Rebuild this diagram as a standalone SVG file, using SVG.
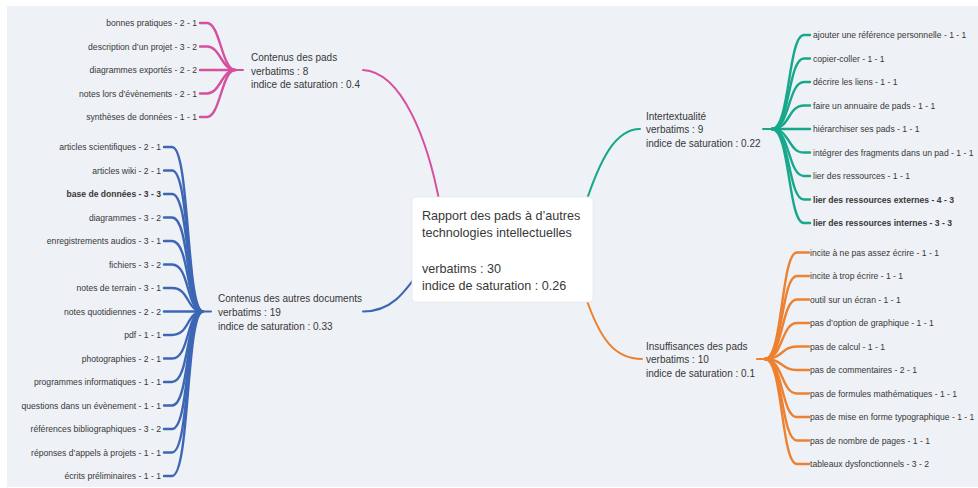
<svg xmlns="http://www.w3.org/2000/svg" width="978" height="488" viewBox="0 0 978 488">
<style>
text{font-family:"Liberation Sans",Arial,sans-serif;fill:#383838}
.leaf{font-size:8.6px}
.b{font-weight:bold}
.br{font-size:10px}
.root{font-size:12.6px}
.c{fill:none;stroke-linecap:round}
.l{stroke-width:2.4}
.m{stroke-width:2}
.pk{stroke:#d5509f}.bl{stroke:#3d67b5}.tl{stroke:#17a88b}.or{stroke:#ec8131}
</style>
<rect width="978" height="488" fill="#ffffff"/>
<rect x="7" y="6" width="971" height="481" fill="#eef1f5"/>
<g id="connectors">
<path class="c m pk" d="M363,70 C402,72 428,140 440,205"/>
<path class="c m bl" d="M363,311.5 C392,311.5 405,292 422,268"/>
<path class="c m tl" d="M585,205 C600,160 615,129 640,129"/>
<path class="c m or" d="M585,295 C600,340 615,359 642,359"/>
<path class="c m pk" d="M243,70 L235,70"/>
<path class="c l pk" d="M235,70 C222,70 220,23 207,23 L200,23"/>
<path class="c l pk" d="M235,70 C222,70 220,46.5 207,46.5 L200,46.5"/>
<path class="c l pk" d="M235,70 L200,70"/>
<path class="c l pk" d="M235,70 C222,70 220,93.5 207,93.5 L200,93.5"/>
<path class="c l pk" d="M235,70 C222,70 220,117 207,117 L200,117"/>
<path class="c m bl" d="M211,311.5 L203,311.5"/>
<path class="c l bl" d="M203,311.5 C186,311.5 190,147 172,147 L164,147"/>
<path class="c l bl" d="M203,311.5 C186,311.5 190,170.5 172,170.5 L164,170.5"/>
<path class="c l bl" d="M203,311.5 C186,311.5 190,194 172,194 L164,194"/>
<path class="c l bl" d="M203,311.5 C186,311.5 190,217.5 172,217.5 L164,217.5"/>
<path class="c l bl" d="M203,311.5 C186,311.5 190,241 172,241 L164,241"/>
<path class="c l bl" d="M203,311.5 C186,311.5 190,264.5 172,264.5 L164,264.5"/>
<path class="c l bl" d="M203,311.5 C186,311.5 190,288 172,288 L164,288"/>
<path class="c l bl" d="M203,311.5 L164,311.5"/>
<path class="c l bl" d="M203,311.5 C186,311.5 190,335 172,335 L164,335"/>
<path class="c l bl" d="M203,311.5 C186,311.5 190,358.5 172,358.5 L164,358.5"/>
<path class="c l bl" d="M203,311.5 C186,311.5 190,382 172,382 L164,382"/>
<path class="c l bl" d="M203,311.5 C186,311.5 190,405.5 172,405.5 L164,405.5"/>
<path class="c l bl" d="M203,311.5 C186,311.5 190,429 172,429 L164,429"/>
<path class="c l bl" d="M203,311.5 C186,311.5 190,452.5 172,452.5 L164,452.5"/>
<path class="c l bl" d="M203,311.5 C186,311.5 190,476 172,476 L164,476"/>
<path class="c m tl" d="M763,129 L772,129"/>
<path class="c l tl" d="M772,129 C790,129 788,35 804,35 L810,35"/>
<path class="c l tl" d="M772,129 C790,129 788,58.5 804,58.5 L810,58.5"/>
<path class="c l tl" d="M772,129 C790,129 788,82 804,82 L810,82"/>
<path class="c l tl" d="M772,129 C790,129 788,105.5 804,105.5 L810,105.5"/>
<path class="c l tl" d="M772,129 L810,129"/>
<path class="c l tl" d="M772,129 C790,129 788,152.5 804,152.5 L810,152.5"/>
<path class="c l tl" d="M772,129 C790,129 788,176 804,176 L810,176"/>
<path class="c l tl" d="M772,129 C790,129 788,199.5 804,199.5 L810,199.5"/>
<path class="c l tl" d="M772,129 C790,129 788,223 804,223 L810,223"/>
<path class="c m or" d="M757,359 L765,359"/>
<path class="c l or" d="M765,359 C783,359 781,252.5 797,252.5 L809,252.5"/>
<path class="c l or" d="M765,359 C783,359 781,276 797,276 L809,276"/>
<path class="c l or" d="M765,359 C783,359 781,299.5 797,299.5 L809,299.5"/>
<path class="c l or" d="M765,359 C783,359 781,323 797,323 L809,323"/>
<path class="c l or" d="M765,359 C783,359 781,346.5 797,346.5 L809,346.5"/>
<path class="c l or" d="M765,359 C783,359 781,370 797,370 L809,370"/>
<path class="c l or" d="M765,359 C783,359 781,393.5 797,393.5 L809,393.5"/>
<path class="c l or" d="M765,359 C783,359 781,417 797,417 L809,417"/>
<path class="c l or" d="M765,359 C783,359 781,440.5 797,440.5 L809,440.5"/>
<path class="c l or" d="M765,359 C783,359 781,464 797,464 L809,464"/>
</g>
<g id="root">
<rect x="412" y="197" width="181" height="105" rx="4" fill="#ffffff" stroke="#e6e9ee" stroke-width="0.8"/>
<text class="root" x="422" y="219.5">Rapport des pads à d’autres</text>
<text class="root" x="422" y="237.2">technologies intellectuelles</text>
<text class="root" x="422" y="272.6">verbatims : 30</text>
<text class="root" x="422" y="290.3">indice de saturation : 0.26</text>
</g>
<g id="contenus-pads">
<text class="br" x="251" y="60.5">Contenus des pads</text>
<text class="br" x="251" y="74.5">verbatims : 8</text>
<text class="br" x="251" y="88">indice de saturation : 0.4</text>
</g>
<g id="pads-leaves" text-anchor="end">
<text class="leaf" x="197" y="26">bonnes pratiques - 2 - 1</text>
<text class="leaf" x="197" y="49.5">description d’un projet - 3 - 2</text>
<text class="leaf" x="197" y="73">diagrammes exportés - 2 - 2</text>
<text class="leaf" x="197" y="96.5">notes lors d’évènements - 2 - 1</text>
<text class="leaf" x="197" y="120">synthèses de données - 1 - 1</text>
</g>
<g id="contenus-autres">
<text class="br" x="218" y="301.5">Contenus des autres documents</text>
<text class="br" x="218" y="315.5">verbatims : 19</text>
<text class="br" x="218" y="329.5">indice de saturation : 0.33</text>
</g>
<g id="autres-leaves" text-anchor="end">
<text class="leaf" x="161" y="150">articles scientifiques - 2 - 1</text>
<text class="leaf" x="161" y="173.5">articles wiki - 2 - 1</text>
<text class="leaf b" x="161" y="197">base de données - 3 - 3</text>
<text class="leaf" x="161" y="220.5">diagrammes - 3 - 2</text>
<text class="leaf" x="161" y="244">enregistrements audios - 3 - 1</text>
<text class="leaf" x="161" y="267.5">fichiers - 3 - 2</text>
<text class="leaf" x="161" y="291">notes de terrain - 3 - 1</text>
<text class="leaf" x="161" y="314.5">notes quotidiennes - 2 - 2</text>
<text class="leaf" x="161" y="338">pdf - 1 - 1</text>
<text class="leaf" x="161" y="361.5">photographies - 2 - 1</text>
<text class="leaf" x="161" y="385">programmes informatiques - 1 - 1</text>
<text class="leaf" x="161" y="408.5">questions dans un évènement - 1 - 1</text>
<text class="leaf" x="161" y="432">références bibliographiques - 3 - 2</text>
<text class="leaf" x="161" y="455.5">réponses d’appels à projets - 1 - 1</text>
<text class="leaf" x="161" y="479">écrits préliminaires - 1 - 1</text>
</g>
<g id="intertextualite">
<text class="br" x="646" y="119.5">Intertextualité</text>
<text class="br" x="646" y="133">verbatims : 9</text>
<text class="br" x="646" y="146.5">indice de saturation : 0.22</text>
</g>
<g id="intertextualite-leaves">
<text class="leaf" x="813" y="38">ajouter une référence personnelle - 1 - 1</text>
<text class="leaf" x="813" y="61.5">copier-coller - 1 - 1</text>
<text class="leaf" x="813" y="85">décrire les liens - 1 - 1</text>
<text class="leaf" x="813" y="108.5">faire un annuaire de pads - 1 - 1</text>
<text class="leaf" x="813" y="132">hiérarchiser ses pads - 1 - 1</text>
<text class="leaf" x="813" y="155.5">intégrer des fragments dans un pad - 1 - 1</text>
<text class="leaf" x="813" y="179">lier des ressources - 1 - 1</text>
<text class="leaf b" x="813" y="202.5">lier des ressources externes - 4 - 3</text>
<text class="leaf b" x="813" y="226">lier des ressources internes - 3 - 3</text>
</g>
<g id="insuffisances">
<text class="br" x="646" y="349.5">Insuffisances des pads</text>
<text class="br" x="646" y="363">verbatims : 10</text>
<text class="br" x="646" y="376.5">indice de saturation : 0.1</text>
</g>
<g id="insuffisances-leaves">
<text class="leaf" x="810" y="255.5">incite à ne pas assez écrire - 1 - 1</text>
<text class="leaf" x="810" y="279">incite à trop écrire - 1 - 1</text>
<text class="leaf" x="810" y="302.5">outil sur un écran - 1 - 1</text>
<text class="leaf" x="810" y="326">pas d’option de graphique - 1 - 1</text>
<text class="leaf" x="810" y="349.5">pas de calcul - 1 - 1</text>
<text class="leaf" x="810" y="373">pas de commentaires - 2 - 1</text>
<text class="leaf" x="810" y="396.5">pas de formules mathématiques - 1 - 1</text>
<text class="leaf" x="810" y="420">pas de mise en forme typographique - 1 - 1</text>
<text class="leaf" x="810" y="443.5">pas de nombre de pages - 1 - 1</text>
<text class="leaf" x="810" y="467">tableaux dysfonctionnels - 3 - 2</text>
</g>
</svg>
